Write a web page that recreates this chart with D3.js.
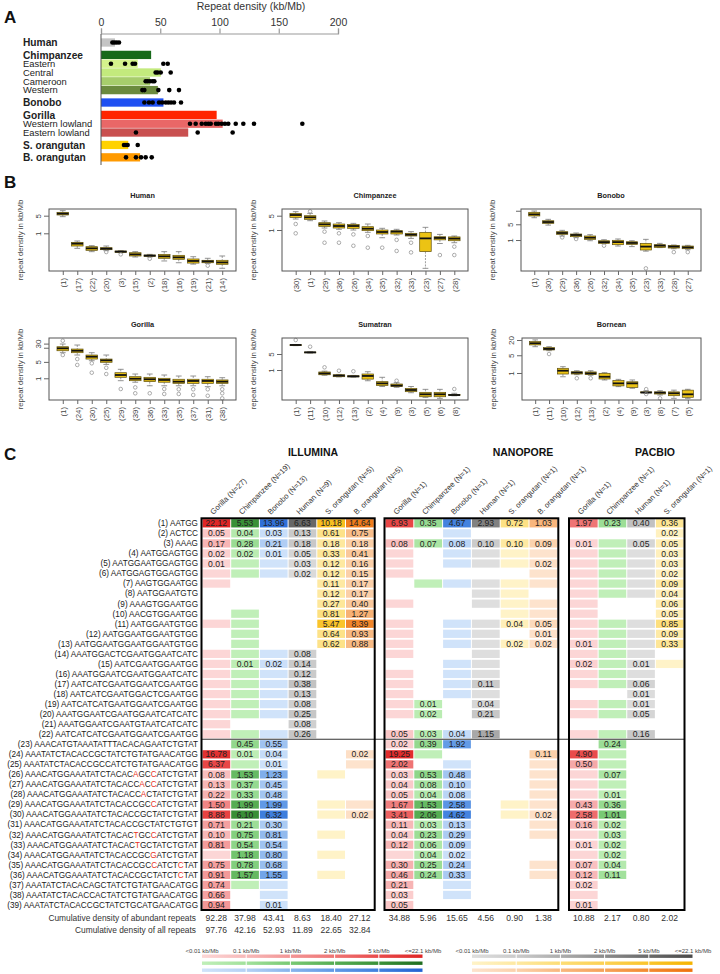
<!DOCTYPE html>
<html><head><meta charset="utf-8">
<script src="https://cdn.jsdelivr.net/npm/d3@7"></script>
<style>
body{margin:0;background:#fff}
svg{display:block}
text{font-family:"Liberation Sans",Arial,Helvetica,sans-serif}
</style>
</head><body>
<svg id="c" width="720" height="974"></svg>
<script>
// ================= DATA =================
// ---- Panel A ----
const aGroups = ["Human","Chimpanzee","Eastern","Central","Cameroon","Western","Bonobo","Gorilla","Western lowland","Eastern lowland","S. orangutan","B. orangutan"];
const aSpecies = [0,1,1,1,1,1,2,3,3,3,4,5];
const aBold = [true,true,false,false,false,false,true,true,false,false,true,true];
const aMeans = [11.8,42.3,31,50.5,41.4,48,52.7,97.6,102.7,73.6,23,33];
const aDots = [
  [9.6,11.3,13.2,15.2],
  [],
  [8.4,20.3,26.7,28.7,52.6,56.3],
  [46.1,47.8,50.4,58.8],
  [37.7,39.4,41.4,43.6,45],
  [34.9,36.6,48.4,57.6,65.8],
  [36.6,40.5,43.6,49,51.7,54.6,56.8,59.1,61.6,67.5],
  [],
  [75.1,79.9,85,88.4,90.6,92.6,97,99,101.9,104.6,107.4,113.7,120.1,129.1,169.9],
  [29.5,81.6,111.1],
  [19.4,21.1,22.5,31],
  [21.1,29.5,33.8,37.7,42.8]
];
const aTicks = [0,50,100,150,200];

// ---- Panel B (boxplots: [lower whisker, Q1, median, Q3, upper whisker]) ----
const humanLabels = ["(1)","(17)","(22)","(20)","(3)","(15)","(2)","(18)","(16)","(19)","(21)","(14)"];
const humanStats = [[4.57,5.32,6.01,6.79,7.9],[0.253,0.313,0.388,0.438,0.495],[0.187,0.211,0.253,0.295,0.323],[0.205,0.224,0.245,0.269,0.313],[0.170,0.176,0.187,0.199,0.205],[0.115,0.126,0.146,0.170,0.187],[0.115,0.122,0.130,0.138,0.146],[0.080,0.102,0.122,0.146,0.187],[0.068,0.093,0.111,0.134,0.187],[0.060,0.066,0.080,0.096,0.118],[0.064,0.068,0.077,0.085,0.102],[0.041,0.059,0.070,0.085,0.126]];
const humanOut = [[],[],[],[0.181],[0.146],[],[0.098],[],[],[],[0.052],[]];

const chimpLabels = ["(30)","(1)","(29)","(36)","(26)","(34)","(35)","(32)","(33)","(23)","(27)","(28)"];
const chimpStats = [[3.44,4.15,5.39,6.5,7.84],[2.85,3.31,4.15,5.0,6.5],[1.25,1.51,1.89,2.28,2.75],[1.08,1.25,1.57,1.96,2.28],[1.0,1.21,1.57,1.89,2.11],[0.77,0.93,1.16,1.45,1.96],[0.42,0.64,0.80,1.0,1.21],[0.57,0.64,0.83,0.93,1.08],[0.39,0.51,0.59,0.69,0.83],[0.0135,0.088,0.39,0.77,1.35],[0.22,0.33,0.41,0.47,0.61],[0.24,0.30,0.38,0.46,0.51]];
const chimpOut = [[1.96,0.69],[8.1],[0.83,0.24],[0.69,0.24],[0.61,0.17],[0.51,0.137],[0.137],[0.33,0.095],[0.24,0.081],[],[0.06],[0.154,0.06]];

const bonoboLabels = ["(1)","(30)","(29)","(36)","(26)","(32)","(34)","(35)","(23)","(33)","(28)","(27)"];
const bonoboStats = [[9.8,11.7,13.8,17.0,19.4],[4.6,5.5,6.3,7.2,8.3],[1.51,1.79,2.05,2.35,2.69],[1.27,1.41,1.67,1.85,2.05],[0.93,1.07,1.27,1.51,1.73],[0.69,0.71,0.81,0.93,1.03],[0.54,0.62,0.81,0.97,1.11],[0.51,0.64,0.74,0.84,0.93],[0.32,0.36,0.51,0.71,1.07],[0.46,0.47,0.56,0.62,0.71],[0.41,0.44,0.51,0.58,0.60],[0.37,0.41,0.47,0.54,0.58]];
const bonoboOut = [[],[],[1.31],[1.11],[],[0.56],[],[],[0.055],[],[0.29],[0.29]];

const gorillaLabels = ["(1)","(24)","(30)","(25)","(29)","(39)","(36)","(33)","(35)","(37)","(31)","(38)"];
const gorillaStats = [[12.3,14.9,18.9,22.1,28.8],[9.8,12.3,14.9,17.6,26.1],[5.6,6.6,8.3,9.8,12.3],[3.9,4.8,5.8,6.6,9.8],[0.79,1.10,1.38,1.73,2.41],[0.68,0.79,0.96,1.17,1.52],[0.48,0.72,0.91,1.10,1.52],[0.48,0.68,0.85,1.0,1.38],[0.48,0.61,0.72,0.91,1.25],[0.48,0.61,0.77,0.91,1.25],[0.44,0.61,0.77,0.91,1.17],[0.48,0.61,0.72,0.85,1.06]];
const gorillaOut = [[39.8,9.8],[6.6,3.7],[4.35,1.73],[2.8,1.52],[0.35],[0.41,0.23],[0.23],[0.35,0.215],[0.34,0.215],[0.34,0.195],[0.34,0.18],[0.34,0.23,0.14]];

const sumatranLabels = ["(1)","(11)","(10)","(12)","(13)","(2)","(4)","(9)","(3)","(5)","(6)","(8)"];
const sumatranStats = [[11.6,11.9,12.4,12.7,13.0],[5.5,5.7,5.9,6.1,6.3],[0.59,0.62,0.71,0.82,0.89],[0.50,0.51,0.57,0.62,0.64],[0.49,0.50,0.53,0.56,0.58],[0.34,0.40,0.55,0.67,0.84],[0.19,0.21,0.26,0.31,0.48],[0.175,0.19,0.21,0.245,0.28],[0.102,0.113,0.134,0.158,0.19],[0.064,0.068,0.087,0.106,0.143],[0.058,0.068,0.087,0.106,0.143],[0.075,0.077,0.081,0.085,0.096]];
const sumatranOut = [[20.4],[10.4],[1.31],[0.93],[0.88],[],[],[0.34],[],[],[],[0.148]];

const borneanLabels = ["(1)","(11)","(10)","(12)","(13)","(2)","(4)","(9)","(3)","(8)","(7)","(5)"];
const borneanStats = [[10.9,12.8,14.9,17.3,20.2],[7.6,8.1,8.9,10,10.9],[0.71,0.91,1.23,1.53,1.77],[0.86,0.91,1.03,1.12,1.23],[0.81,0.86,0.97,1.1,1.23],[0.53,0.58,0.71,0.97,1.03],[0.29,0.31,0.39,0.50,0.56],[0.25,0.27,0.39,0.45,0.53],[0.16,0.165,0.17,0.18,0.20],[0.135,0.148,0.167,0.18,0.20],[0.10,0.127,0.158,0.18,0.21],[0.10,0.11,0.144,0.21,0.227]];
const borneanOut = [[],[5.6],[],[0.62],[0.62],[],[],[],[0.23,0.148],[0.10],[],[]];

// ---- Panel C ----
const _ = null;   // repeat absent
const o = 0;      // present but < 0.01 kb/Mb
const rowIds = d3.range(1, 40);
const seqs = ["AATGG","ACTCC","AAAG","AATGGAGTGG","AATGGAATGGAGTGG","AATGGAGTGGAGTGG","AAGTGGAATGG","AATGGAATGTG","AAAGTGGAATGG","AACGTGGAATGG",
 "AATGGAATGTGG","AATGGAATGGAATGTGG","AATGGAATGGAATGGAATGTGG","AAATGGACTCGAATGGAATCATC","AATCGAATGGAATGG","AAATGGAATCGAATGGAATCATC","AATCATCGAATGGAATCGAATGG","AATCATCGAATGGACTCGAATGG","AATCATCATGAATGGAATCGAATGG","AAATGGAATCGAATGGAATCATCATC",
 "AAATGGAATCGAATGTAATCATCATC","AATCATCATCGAATGGAATCGAATGG","AAACATGTAAATATTTACACAGAATCTGTAT","AAATATCTACACCGCTATCTGTATGAACATGG","AAATATCTACACCGCCATCTGTATGAACATGG","AAACATGGAAATATCTACACAGCCATCTGTAT","AAACATGGAAATATCTACACCACCATCTGTAT","AAACATGGAAATATCTACACCACTATCTGTAT","AAACATGGAAATATCTACACCGCCATCTGTAT","AAACATGGAAATATCTACACCGCTATCTGTAT",
 "AAACATGGAAATATCTACACCGCTATCTGTGT","AAACATGGAAATATCTACACTGCCATCTGTAT","AAACATGGAAATATCTACACTGCTATCTGTAT","AAACATGGAAATATCTACACCGCGATCTGTAT","AAACATGGAAATATCTACACCGCCATCTCTAT","AAACATGGAAATATCTACACCGCTATCTCTAT","AAATATCTACACAGCTATCTGTATGAACATGG","AAATATCTACACCACTATCTGTATGAACATGG","AAATATCTACACCGCTATCTGCATGAACATGG"];
const mismatchRows = [26,27,28,29,32,33,34,35,36];
const mismatchPos = [[20,23],[21,23],[21],[23],[20,23],[20],[23],[23,28],[28]];

const ilHeaders = ["Gorilla (N=27)","Chimpanzee (N=19)","Bonobo (N=13)","Human (N=9)","S. orangutan (N=5)","B. orangutan (N=5)"];
const npHeaders = ["Gorilla (N=1)","Chimpanzee (N=1)","Bonobo (N=1)","Human (N=1)","S. orangutan (N=1)","B. orangutan (N=1)"];
const pbHeaders = ["Gorilla (N=1)","Chimpanzee (N=1)","Human (N=1)","S. orangutan (N=1)"];

const ilGor = [22.12,.05,.17,.02,.01,o,o,_,_,_, o,_,_,o,o,o,o,o,o,o, o,o,_,16.78,6.37,.08,.13,.22,1.50,8.88, .71,.10,.81,o,.75,.91,.74,.66,.94];
const ilChi = [5.53,.04,.28,.02,o,o,_,_,_,o, o,o,o,o,.01,o,o,o,o,o, _,o,.45,.01,o,1.53,.37,.33,1.99,6.10, .21,.75,.54,1.18,.78,1.57,o,_,_];
const ilBon = [13.96,.03,.21,.01,o,o,_,_,_,_, _,_,_,o,.02,o,o,o,o,o, _,o,.55,.04,.01,1.23,.45,.48,1.99,6.32, .30,.81,.54,.80,.68,1.55,o,o,.01];
const ilHum = [6.63,.13,.18,.05,.03,.02,_,_,_,_, _,_,_,.08,.14,.12,.38,.13,.08,.25, .08,.26,_,_,_,_,_,_,_,_, _,_,_,_,_,_,_,_,_];
const ilSor = [10.18,.61,.18,.33,.12,.12,.11,.12,.27,.81, 5.47,.64,.62,_,_,_,_,_,_,_, _,_,_,_,_,o,_,_,o,o, _,o,_,o,_,o,_,_,_];
const ilBor = [14.64,.75,.18,.41,.16,.15,.17,.17,.40,1.27, 8.39,.93,.88,_,_,_,_,_,_,_, _,_,_,.02,o,_,_,_,o,.02, _,_,_,_,_,_,_,_,_];

const npGor = [6.93,_,.08,o,o,o,_,_,o,_, o,o,o,o,_,o,o,o,o,o, _,.05,.02,19.25,2.02,.03,.04,.05,1.67,3.41, .11,.04,.12,o,.30,.46,.21,.03,.05];
const npChi = [.35,_,.07,_,_,_,o,_,_,_, _,_,_,_,_,_,_,_,.01,.02, _,.03,.39,o,_,.53,.08,.04,1.53,2.06, .03,.23,.06,.04,.25,.24,_,_,_];
const npBon = [4.67,o,.08,o,o,_,o,_,_,_, o,o,o,_,o,o,o,o,_,_, _,.04,1.92,_,o,.48,.10,.08,2.58,4.62, .13,.29,.09,.02,.24,.33,o,o,_];
const npHum = [2.93,_,.10,o,o,_,o,o,o,_, o,o,o,o,o,o,.11,o,.04,.21, _,1.15,_,_,_,_,_,_,_,_, _,_,_,_,_,_,_,_,_];
const npSor = [.72,_,.10,o,o,_,o,o,o,o, .04,_,.02,_,_,_,_,_,_,_, _,_,_,_,_,_,_,_,o,o, _,_,_,_,_,_,_,_,_];
const npBor = [1.03,_,.09,o,.02,o,o,_,o,o, .05,.01,.02,_,_,_,_,_,_,_, _,_,_,.11,o,o,o,o,o,.02, o,o,_,_,o,o,_,_,_];

const pbGor = [1.97,_,.01,o,o,o,o,o,o,o, o,o,.01,o,.02,o,o,_,o,o, _,o,_,4.90,.50,o,o,o,.43,2.58, .16,o,.01,o,.07,.12,.02,o,.01];
const pbChi = [.23,_,o,o,o,o,o,o,_,_, o,o,o,o,o,o,o,_,o,o, _,o,.24,o,o,.07,o,.01,.36,1.01, .02,.03,.02,.02,.04,.11,_,_,_];
const pbHum = [.40,_,.05,o,o,o,o,o,_,_, o,o,o,o,.01,o,.06,.01,.01,.05, _,.16,_,_,_,_,_,_,_,_, _,_,_,_,_,_,_,_,_];
const pbSor = [.36,.02,.05,.03,.03,.02,.09,.04,.06,.05, .85,.09,.33,_,o,_,_,_,_,_, _,_,_,_,_,_,_,_,_,_, _,_,_,_,_,_,_,_,_];

const ilCumAbundant = [92.28,37.98,43.41,8.63,18.40,27.12];
const ilCumAll = [97.76,42.16,52.93,11.89,22.65,32.84];
const npCumAbundant = [34.88,5.96,15.65,4.56,0.90,1.38];
const pbCumAbundant = [10.88,2.17,0.80,2.02];

const legendBreaks = [0,0.1,1,2,5,22.1];
const legendLabels = ["<0.01 kb/Mb","0.1 kb/Mb","1 kb/Mb","2 kb/Mb","5 kb/Mb","<=22.1 kb/Mb"];

// ================= STYLE =================
const aColors = ["#c4c4c4","#17691a","#d4f28c","#c3ea7d","#a7cd6c","#6b8a3e","#1f50f2","#ff2400","#e96767","#c95050","#ffd200","#ff9a00"];
const ramps = {
  gor:["#fcd6d6","#f7b8b8","#f39595","#ef7474","#e94a4a","#df2626"],
  chi:["#c0efb8","#a2e19c","#78c974","#56ad53","#3a9138","#1f6d1f"],
  bon:["#d0e3fa","#b5d1f5","#88b4ec","#6099e6","#4080de","#2262d2"],
  hum:["#dedede","#cbcbcb","#adadad","#8c8c8c","#6a6a6a","#4a4a4a"],
  sor:["#fff3c8","#fee9a2","#fddd76","#fcd154","#fac42c","#f5b300"],
  bor:["#fde3cd","#fbd1ab","#f8b77e","#f5a258","#f28a30","#ee720c"]
};
const colorOf = {};
Object.keys(ramps).forEach(k => colorOf[k] = d3.scaleLinear().domain(legendBreaks).range(ramps[k]).clamp(true));

const svg = d3.select("#c");
svg.append("rect").attr("width",720).attr("height",974).attr("fill","#fff");

// panel letters
[["A",23],["B",188],["C",460]].forEach(([t,y]) =>
  svg.append("text").attr("x",4).attr("y",y).text(t)
    .attr("font-size",17).attr("font-weight","bold").attr("fill","#111"));

// ================= PANEL A =================
(function(){
  const g = svg.append("g");
  const x = d3.scaleLinear().domain([0,200]).range([101,338]);
  let s = 0; const slots = [];
  aSpecies.forEach((sp,i) => { if (i>0) s += (sp!==aSpecies[i-1]) ? 1.41 : 1; slots.push(s); });
  const y = d3.scaleLinear().domain([0,1]).range([42.5,51.3]);
  const bh = 8.3;

  g.append("text").attr("x",251).attr("y",10).attr("text-anchor","middle")
    .attr("font-size",10.5).attr("fill","#333").text("Repeat density (kb/Mb)");
  const ax = g.append("g").attr("transform","translate(0,33.5)")
    .call(d3.axisTop(x).tickValues(aTicks).tickSize(5).tickPadding(3));
  ax.selectAll("path,line").attr("stroke","#999").attr("stroke-width",1.2);
  ax.selectAll("text").attr("font-size",10.5).attr("fill","#333")
    .attr("font-family","Liberation Sans, Arial, sans-serif");

  g.selectAll("rect.bar").data(aGroups).join("rect").attr("class","bar")
    .attr("x",x(0)).attr("y",(d,i)=>y(slots[i])-bh/2)
    .attr("width",(d,i)=>x(aMeans[i])-x(0)).attr("height",bh)
    .attr("fill",(d,i)=>aColors[i]);
  g.append("line").attr("x1",x(0)).attr("x2",x(0)).attr("y1",34).attr("y2",165)
    .attr("stroke","#555").attr("stroke-width",1);

  g.selectAll("text.lab").data(aGroups).join("text").attr("class","lab")
    .attr("x",23).attr("y",(d,i)=>y(slots[i])).attr("dy","0.36em")
    .attr("font-size",(d,i)=>aBold[i]?10.2:9.4).attr("font-weight",(d,i)=>aBold[i]?"bold":"normal")
    .attr("fill","#222").text(d=>d);

  const dots = [];
  aDots.forEach((arr,i)=>arr.forEach(v=>dots.push({v,i})));
  g.selectAll("circle.dot").data(dots).join("circle").attr("class","dot")
    .attr("cx",d=>x(d.v)).attr("cy",d=>y(slots[d.i])).attr("r",2.3).attr("fill","#000");
})();

// ================= PANEL B =================
function boxPanel(c){
  const g = svg.append("g");
  const x = d3.scalePoint().domain(c.labels).range([c.x0,c.x1]).padding(0.95);
  const y = d3.scaleLog().domain(c.domain).range([c.y1,c.y0]);
  const bw = x.step()*0.8;
  const items = c.labels.map((l,i)=>({l, s:c.stats[i], out:c.out[i]}));

  const it = g.selectAll("g.box").data(items).join("g").attr("class","box");
  it.append("line").attr("x1",d=>x(d.l)).attr("x2",d=>x(d.l))
    .attr("y1",d=>y(d.s[4])).attr("y2",d=>y(d.s[3]))
    .attr("stroke","#777").attr("stroke-width",0.7).attr("stroke-dasharray","2,1.2");
  it.append("line").attr("x1",d=>x(d.l)).attr("x2",d=>x(d.l))
    .attr("y1",d=>y(d.s[1])).attr("y2",d=>y(d.s[0]))
    .attr("stroke","#777").attr("stroke-width",0.7).attr("stroke-dasharray","2,1.2");
  [0,4].forEach(k=>it.append("line").attr("x1",d=>x(d.l)-bw/4).attr("x2",d=>x(d.l)+bw/4)
    .attr("y1",d=>y(d.s[k])).attr("y2",d=>y(d.s[k])).attr("stroke","#777").attr("stroke-width",0.8));
  it.append("rect").attr("x",d=>x(d.l)-bw/2).attr("width",bw)
    .attr("y",d=>y(d.s[3])).attr("height",d=>Math.max(0.8,y(d.s[1])-y(d.s[3])))
    .attr("fill","#ecc314").attr("stroke","#5e5010").attr("stroke-width",0.7);
  it.append("line").attr("x1",d=>x(d.l)-bw/2).attr("x2",d=>x(d.l)+bw/2)
    .attr("y1",d=>y(d.s[2])).attr("y2",d=>y(d.s[2])).attr("stroke","#111").attr("stroke-width",1.8);
  it.selectAll("circle").data(d=>d.out.map(v=>({v,l:d.l}))).join("circle")
    .attr("cx",d=>x(d.l)).attr("cy",d=>y(d.v)).attr("r",1.8)
    .attr("fill","none").attr("stroke","#8a8a8a").attr("stroke-width",0.7);

  g.append("rect").attr("x",c.x0).attr("y",c.y0).attr("width",c.x1-c.x0).attr("height",c.y1-c.y0)
    .attr("fill","none").attr("stroke","#555").attr("stroke-width",1);

  const ya = g.append("g").attr("transform",`translate(${c.x0},0)`)
    .call(d3.axisLeft(y).tickValues(c.ticks).tickSize(5).tickFormat(d=>c.labeled.includes(d)?d:""));
  ya.select(".domain").remove();
  ya.selectAll("line").attr("stroke","#666");
  ya.selectAll("text").attr("transform","rotate(-90)").attr("x",0).attr("y",-8).attr("dy",0)
    .attr("text-anchor","middle").attr("font-size",8).attr("fill","#444")
    .attr("font-family","Liberation Sans, Arial, sans-serif");

  const xa = g.append("g").attr("transform",`translate(0,${c.y1})`)
    .call(d3.axisBottom(x).tickSize(4));
  xa.select(".domain").remove();
  xa.selectAll("line").attr("stroke","#666");
  xa.selectAll("text").attr("transform","rotate(-90)").attr("x",-7).attr("y",0).attr("dy","0.35em")
    .attr("text-anchor","end").attr("font-size",7.8).attr("fill","#444")
    .attr("font-family","Liberation Sans, Arial, sans-serif");

  g.append("text").attr("x",(c.x0+c.x1)/2).attr("y",c.y0-11).attr("text-anchor","middle")
    .attr("font-size",7.3).attr("font-weight","bold").attr("fill","#222").text(c.title);
  g.append("text").attr("transform",`translate(${c.x0-26},${(c.y0+c.y1)/2}) rotate(-90)`)
    .attr("text-anchor","middle").attr("font-size",7.8).attr("fill","#444").text("repeat density in kb/Mb");
}
const r1 = [209,271], r2 = [338,400];
boxPanel({title:"Human",labels:humanLabels,stats:humanStats,out:humanOut,x0:49,x1:236,y0:r1[0],y1:r1[1],domain:[0.032,9.2],ticks:[5,1],labeled:[5,1]});
boxPanel({title:"Chimpanzee",labels:chimpLabels,stats:chimpStats,out:chimpOut,x0:282,x1:468,y0:r1[0],y1:r1[1],domain:[0.01,10.6],ticks:[5,1],labeled:[5,1]});
boxPanel({title:"Bonobo",labels:bonoboLabels,stats:bonoboStats,out:bonoboOut,x0:521,x1:701,y0:r1[0],y1:r1[1],domain:[0.042,23.9],ticks:[20,5,1],labeled:[5,1]});
boxPanel({title:"Gorilla",labels:gorillaLabels,stats:gorillaStats,out:gorillaOut,x0:49,x1:236,y0:r2[0],y1:r2[1],domain:[0.119,52],ticks:[30,20,5,1],labeled:[30,5,1]});
boxPanel({title:"Sumatran",labels:sumatranLabels,stats:sumatranStats,out:sumatranOut,x0:282,x1:468,y0:r2[0],y1:r2[1],domain:[0.049,25],ticks:[5,1],labeled:[5,1]});
boxPanel({title:"Bornean",labels:borneanLabels,stats:borneanStats,out:borneanOut,x0:522,x1:701,y0:r2[0],y1:r2[1],domain:[0.086,24],ticks:[20,5,1],labeled:[20,5,1]});

// ================= PANEL C =================
const rowY = d3.scaleBand().domain(rowIds).range([518.3,910]);
const blocks = [
  {title:"ILLUMINA", titleX:313, range:[202,374.2], headers:ilHeaders, sp:["gor","chi","bon","hum","sor","bor"],
   data:[ilGor,ilChi,ilBon,ilHum,ilSor,ilBor], cum:ilCumAbundant, cumAll:ilCumAll},
  {title:"NANOPORE", titleX:523, range:[385,557.8], headers:npHeaders, sp:["gor","chi","bon","hum","sor","bor"],
   data:[npGor,npChi,npBon,npHum,npSor,npBor], cum:npCumAbundant, cumAll:null},
  {title:"PACBIO", titleX:655, range:[569.5,684], headers:pbHeaders, sp:["gor","chi","hum","sor"],
   data:[pbGor,pbChi,pbHum,pbSor], cum:pbCumAbundant, cumAll:null}
];
const gC = svg.append("g");
blocks.forEach(b=>{
  const x = d3.scaleBand().domain(b.headers.map((h,i)=>i)).range(b.range);
  const cells = [];
  b.data.forEach((col,ci)=>col.forEach((v,ri)=>{ if(v!==null) cells.push({ci,ri,v,sp:b.sp[ci]}); }));
  const cg = gC.append("g");
  cg.selectAll("rect").data(cells).join("rect")
    .attr("x",d=>x(d.ci)+0.5).attr("width",x.bandwidth()-1)
    .attr("y",d=>rowY(rowIds[d.ri])+0.9).attr("height",rowY.bandwidth()-1.8)
    .attr("fill",d=>colorOf[d.sp](d.v));
  cg.selectAll("text").data(cells.filter(d=>d.v>0)).join("text")
    .attr("x",d=>x(d.ci)+x.bandwidth()/2).attr("y",d=>rowY(rowIds[d.ri])+rowY.bandwidth()/2)
    .attr("dy","0.36em").attr("text-anchor","middle").attr("font-size",8.6).attr("fill","#222")
    .text(d=>d.v.toFixed(2));
  // headers
  gC.selectAll(null).data(b.headers).join("text")
    .attr("transform",(d,i)=>`translate(${x(i)+x.bandwidth()/2-3},515) rotate(-45)`)
    .attr("font-size",7.6).attr("fill","#333").text(d=>d);
  // title
  gC.append("text").attr("x",b.titleX).attr("y",456).attr("text-anchor","middle")
    .attr("font-family","Liberation Sans Narrow, Liberation Sans, Arial Narrow, sans-serif")
    .attr("font-weight","bold").attr("font-size",10.5).attr("fill","#111").text(b.title);
  // cumulative rows
  gC.selectAll(null).data(b.cum).join("text")
    .attr("x",(d,i)=>x(i)+x.bandwidth()/2).attr("y",921).attr("text-anchor","middle")
    .attr("font-size",8.6).attr("fill","#333").text(d=>d.toFixed(2));
  if (b.cumAll) gC.selectAll(null).data(b.cumAll).join("text")
    .attr("x",(d,i)=>x(i)+x.bandwidth()/2).attr("y",932.5).attr("text-anchor","middle")
    .attr("font-size",8.6).attr("fill","#333").text(d=>d.toFixed(2));
});
// divider between row 22 and 23
gC.append("line").attr("x1",202).attr("x2",684).attr("y1",rowY(23)).attr("y2",rowY(23))
  .attr("stroke","#333").attr("stroke-width",1.2);
// block frames
blocks.forEach(b=>{
  gC.append("rect").attr("x",b.range[0]-0.5).attr("y",rowY(1)).attr("width",b.range[1]-b.range[0]+1)
    .attr("height",rowY(39)+rowY.bandwidth()-rowY(1))
    .attr("fill","none").attr("stroke","#000").attr("stroke-width",2);
});
gC.append("text").attr("x",196).attr("y",921).attr("text-anchor","end").attr("font-size",8.4).attr("fill","#333")
  .text("Cumulative density of abundant repeats");
gC.append("text").attr("x",196).attr("y",932.5).attr("text-anchor","end").attr("font-size",8.4).attr("fill","#333")
  .text("Cumulative density of all repeats");

// row labels
const lab = gC.selectAll("text.row").data(rowIds).join("text").attr("class","row")
  .attr("x",198).attr("y",d=>rowY(d)+rowY.bandwidth()/2).attr("dy","0.35em")
  .attr("text-anchor","end").attr("font-family","Liberation Mono, Courier New, monospace")
  .attr("font-size",8.2).attr("fill","#1a1a1a");
lab.each(function(d,i){
  const t = d3.select(this);
  const mi = mismatchRows.indexOf(d);
  const red = mi>=0 ? mismatchPos[mi] : [];
  t.append("tspan").text(`(${d}) `);
  const sq = seqs[i];
  let seg = "", segRed = false;
  for (let k=0;k<sq.length;k++){
    const r = red.includes(k);
    if (k>0 && r!==segRed){ t.append("tspan").attr("fill",segRed?"#e8301c":null).text(seg); seg=""; }
    seg += sq[k]; segRed = r;
  }
  t.append("tspan").attr("fill",segRed?"#e8301c":null).text(seg);
});

// legends
const defs = svg.append("defs");
function legend(x0,x1,species,id){
  const x = d3.scalePoint().domain(legendLabels).range([x0,x1]);
  const g = svg.append("g");
  g.selectAll("text").data(legendLabels).join("text").attr("x",d=>x(d)).attr("y",952.5)
    .attr("text-anchor","middle").attr("font-size",6).attr("fill","#444").text(d=>d);
  species.forEach((sp,si)=>{
    const segs = d3.range(5);
    segs.forEach(k=>{
      const gid = `g_${id}_${sp}_${k}`;
      const lg = defs.append("linearGradient").attr("id",gid);
      lg.append("stop").attr("offset","0%").attr("stop-color",colorOf[sp](legendBreaks[k]));
      lg.append("stop").attr("offset","100%").attr("stop-color",colorOf[sp](legendBreaks[k+1]));
    });
    g.selectAll(null).data(segs).join("rect")
      .attr("x",k=>x(legendLabels[k])+(k>0?0.5:0)).attr("width",k=>x.step()-(k>0?0.5:0)-0.5)
      .attr("y",954.5+si*7).attr("height",3.4)
      .attr("fill",k=>`url(#g_${id}_${sp}_${k})`);
  });
}
legend(202,423,["gor","chi","bon"],"L");
legend(472,693,["hum","sor","bor"],"R");
</script>
</body></html>
